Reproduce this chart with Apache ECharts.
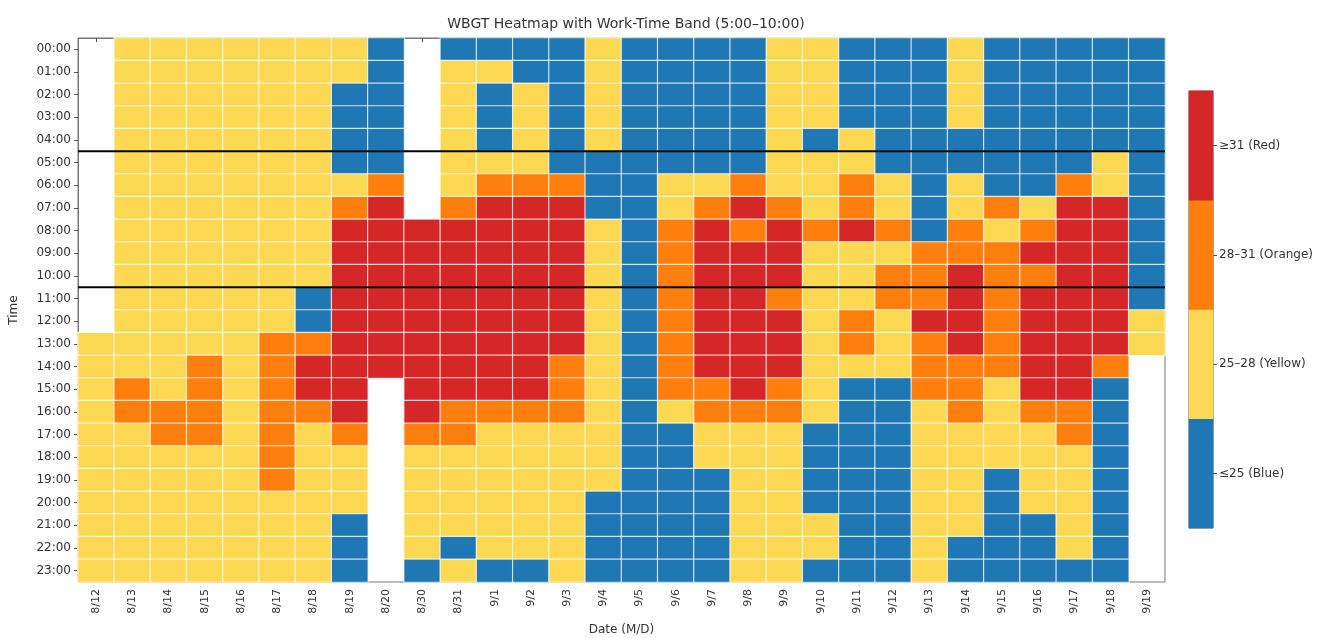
<!DOCTYPE html>
<html>
<head>
<meta charset="utf-8">
<script src="https://cdn.jsdelivr.net/npm/echarts@6/dist/echarts.min.js"></script>
<style>
html,body{margin:0;padding:0;background:#fff;}
#chart{width:1330px;height:638px;}
</style>
</head>
<body>
<div id="chart"></div>
<script>
// Categories
const dates = ['8/12','8/13','8/14','8/15','8/16','8/17','8/18','8/19','8/20','8/30','8/31',
  '9/1','9/2','9/3','9/4','9/5','9/6','9/7','9/8','9/9','9/10','9/11','9/12','9/13','9/14',
  '9/15','9/16','9/17','9/18','9/19'];
const hours = ['00:00','01:00','02:00','03:00','04:00','05:00','06:00','07:00','08:00','09:00',
  '10:00','11:00','12:00','13:00','14:00','15:00','16:00','17:00','18:00','19:00','20:00',
  '21:00','22:00','23:00'];
// WBGT level per hour (00:00..23:00) for each date: B=≤25, Y=25–28, O=28–31, R=≥31, -=no data
const levels = [
  '-------------YYYYYYYYYYY', // 8/12
  'YYYYYYYYYYYYYYYOOYYYYYYY', // 8/13
  'YYYYYYYYYYYYYYYYOOYYYYYY', // 8/14
  'YYYYYYYYYYYYYYOOOOYYYYYY', // 8/15
  'YYYYYYYYYYYYYYYYYYYYYYYY', // 8/16
  'YYYYYYYYYYYYYOOOOOOOYYYY', // 8/17
  'YYYYYYYYYYYBBORROYYYYYYY', // 8/18
  'YYBBBBYORRRRRRRRROYYYBBB', // 8/19
  'BBBBBBORRRRRRRR---------', // 8/20
  '--------RRRRRRRRROYYYYYB', // 8/30
  'BYYYYYYORRRRRRRROOYYYYBY', // 8/31
  'BYBBBYORRRRRRRRROYYYYYYB', // 9/1
  'BBYYYYORRRRRRRRROYYYYYYB', // 9/2
  'BBBBBBORRRRRRROOOYYYYYYY', // 9/3
  'YYYYYBBBYYYYYYYYYYYYBBBB', // 9/4
  'BBBBBBBBBBBBBBBBBBBBBBBB', // 9/5
  'BBBBBBYYOOOOOOOOYBBBBBBB', // 9/6
  'BBBBBBYORRRRRRROOYYBBBBB', // 9/7
  'BBBBBBORORRRRRRROYYYYYYY', // 9/8
  'YYYYYYYORRRORRROOYYYYYYY', // 9/9
  'YYYYBYYYOYYYYYYYYBBBBYYB', // 9/10
  'BBBBYYOORYYYOOYBBBBBBBBB', // 9/11
  'BBBBBBYYOYOOYYYBBBBBBBBB', // 9/12
  'BBBBBBBBBOOOROOOYYYYYYYY', // 9/13
  'YYYYBBYYOORRRROOOYYYYYBB', // 9/14
  'BBBBBBBOYOOOOOOYYYYBBBBB', // 9/15
  'BBBBBBBYORORRRRROYYYYBBB', // 9/16
  'BBBBBBORRRRRRRRROOYYYYYB', // 9/17
  'BBBBBYYRRRRRRROBBBBBBBBB', // 9/18
  'BBBBBBBBBBBBYY----------'  // 9/19
];
const levelCodes = {B:0, Y:1, O:2, R:3};
const levelNames = ['≤25 (Blue)','25–28 (Yellow)','28–31 (Orange)','≥31 (Red)'];
const levelColors = ['#1f77b4','#fdd853','#ff7f0e','#d62728'];
// Work-time band boundaries (hour edges) around the 5:00–10:00 rows
const bandEdges = [5, 11];

const heatData = [];
levels.forEach((s, i) => {
  for (let j = 0; j < hours.length; j++) {
    const c = s[j];
    if (c in levelCodes) heatData.push([i, j, levelCodes[c]]);
  }
});
const cbData = levelNames.map((n, k) => [0, k, k]);

const font = 'DejaVu Sans';
const chart = echarts.init(document.getElementById('chart'), null, {renderer:'canvas'});
chart.setOption({
  animation: false,
  backgroundColor: '#fff',
  textStyle: {fontFamily: font},
  title: {
    text: 'WBGT Heatmap with Work-Time Band (5:00–10:00)',
    left: 621, top: 12, textAlign: 'center',
    textStyle: {fontFamily: font, fontSize: 14, fontWeight: 'normal', color: '#333'}
  },
  grid: [
    {left: 78, right: 165, top: 38, bottom: 56, show: true, borderColor: '#777', borderWidth: 1,
     backgroundColor: 'transparent', containLabel: false, outerBoundsMode: 'none'},
    {left: 1189, width: 24, top: 91, height: 437, show: true, borderColor: '#555', borderWidth: 1,
     containLabel: false, outerBoundsMode: 'none'}
  ],
  visualMap: {
    type: 'piecewise', show: false, dimension: 2, seriesIndex: [0, 1],
    pieces: levelColors.map((c, k) => ({value: k, color: c}))
  },
  xAxis: [
    {type: 'category', gridIndex: 0, data: dates,
     axisLine: {show: true, lineStyle: {color: '#777'}},
     axisTick: {show: true, alignWithLabel: true, length: 4, lineStyle: {color: '#555'}},
     axisLabel: {rotate: 90, fontSize: 11, color: '#333', fontFamily: font, margin: 7, interval: 0},
     splitLine: {show: false},
     name: 'Date (M/D)', nameLocation: 'middle', nameGap: 42,
     nameTextStyle: {fontSize: 12, color: '#333', fontFamily: font}},
    {type: 'value', gridIndex: 0, min: 0, max: 30, show: false},
    {type: 'category', gridIndex: 1, data: [''], show: false}
  ],
  yAxis: [
    {type: 'category', gridIndex: 0, data: hours, inverse: true,
     axisLine: {show: true, lineStyle: {color: '#777'}},
     axisTick: {show: true, alignWithLabel: true, length: 4, lineStyle: {color: '#555'}},
     axisLabel: {fontSize: 12, color: '#333', fontFamily: font, margin: 7, interval: 0},
     splitLine: {show: false},
     name: 'Time', nameLocation: 'middle', nameGap: 58, nameRotate: 90,
     nameTextStyle: {fontSize: 12, color: '#333', fontFamily: font}},
    {type: 'value', gridIndex: 0, min: 0, max: 24, inverse: true, show: false},
    {type: 'category', gridIndex: 1, data: levelNames, position: 'right',
     axisLine: {show: false},
     axisTick: {show: true, alignWithLabel: true, length: 4, inside: false, lineStyle: {color: '#555'}},
     axisLabel: {fontSize: 12, color: '#333', fontFamily: font, margin: 6},
     splitLine: {show: false}}
  ],
  series: [
    {type: 'heatmap', xAxisIndex: 0, yAxisIndex: 0, data: heatData,
     itemStyle: {borderColor: 'rgba(255,255,255,0.75)', borderWidth: 1.2},
     emphasis: {disabled: true}},
    {type: 'heatmap', xAxisIndex: 2, yAxisIndex: 2, data: cbData,
     itemStyle: {borderWidth: 0}, emphasis: {disabled: true}},
    ...bandEdges.map(h => ({
      type: 'line', xAxisIndex: 1, yAxisIndex: 1, symbol: 'none', z: 10,
      lineStyle: {color: '#000', width: 2},
      data: [[0, h], [30, h]]
    }))
  ]
});
</script>
</body>
</html>
